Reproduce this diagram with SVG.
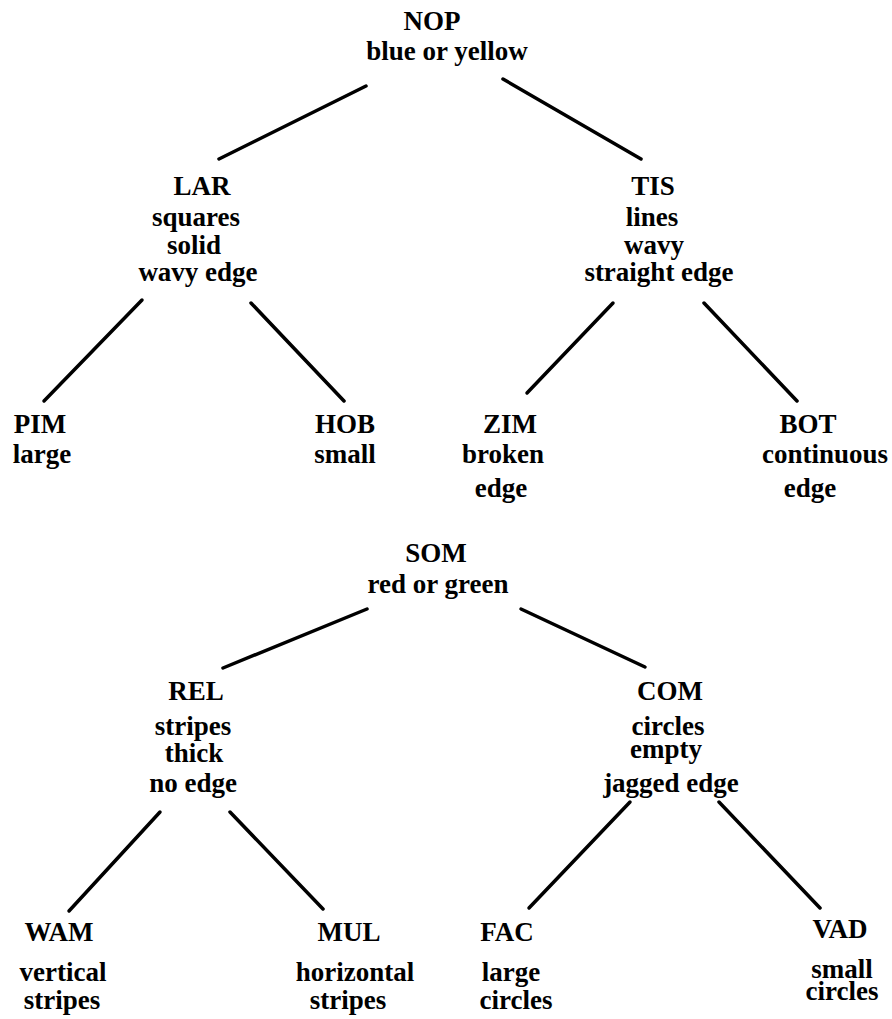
<svg xmlns="http://www.w3.org/2000/svg" width="892" height="1019" viewBox="0 0 892 1019">
<style>
text{font-family:"Liberation Serif","Times New Roman",serif;font-weight:bold;font-size:27px;fill:#000;text-anchor:middle}
.c line{stroke:#000;stroke-width:3.5;stroke-linecap:round}
</style>
<rect width="892" height="1019" fill="#fff"/>
<g class="c" id="connectors">
<line x1="366" y1="86" x2="219" y2="159"/>
<line x1="503" y1="79" x2="641" y2="159"/>
<line x1="142" y1="300" x2="44" y2="401"/>
<line x1="251" y1="303" x2="344" y2="401"/>
<line x1="613" y1="303" x2="527" y2="393"/>
<line x1="704" y1="303" x2="797" y2="401"/>
<line x1="367" y1="609" x2="223" y2="668"/>
<line x1="521" y1="609" x2="645" y2="667"/>
<line x1="160" y1="812" x2="69" y2="911"/>
<line x1="230" y1="812" x2="323" y2="909"/>
<line x1="630" y1="802" x2="529" y2="908"/>
<line x1="719" y1="802" x2="820" y2="908"/>
</g>
<g id="NOP"><text x="432" y="30">NOP</text><text x="447" y="60">blue or yellow</text></g>
<g id="LAR"><text x="202" y="195">LAR</text><text x="196" y="226">squares</text><text x="194" y="254">solid</text><text x="198" y="281">wavy edge</text></g>
<g id="TIS"><text x="653" y="195">TIS</text><text x="652" y="226">lines</text><text x="654" y="254">wavy</text><text x="659" y="281">straight edge</text></g>
<g id="PIM"><text x="40" y="433">PIM</text><text x="42" y="463">large</text></g>
<g id="HOB"><text x="345" y="433">HOB</text><text x="345" y="463">small</text></g>
<g id="ZIM"><text x="510" y="433">ZIM</text><text x="503" y="463">broken</text><text x="501" y="497">edge</text></g>
<g id="BOT"><text x="808" y="433">BOT</text><text x="825" y="463">continuous</text><text x="810" y="497">edge</text></g>
<g id="SOM"><text x="436" y="562">SOM</text><text x="438" y="593">red or green</text></g>
<g id="REL"><text x="196" y="700">REL</text><text x="193" y="735">stripes</text><text x="194" y="762">thick</text><text x="193" y="792">no edge</text></g>
<g id="COM"><text x="670" y="700">COM</text><text x="668" y="735">circles</text><text x="666" y="758">empty</text><text x="671" y="792">jagged edge</text></g>
<g id="WAM"><text x="59" y="941">WAM</text><text x="63" y="981">vertical</text><text x="62" y="1009">stripes</text></g>
<g id="MUL"><text x="349" y="941">MUL</text><text x="355" y="981">horizontal</text><text x="348" y="1009">stripes</text></g>
<g id="FAC"><text x="507" y="941">FAC</text><text x="511" y="981">large</text><text x="516" y="1009">circles</text></g>
<g id="VAD"><text x="840" y="938">VAD</text><text x="842" y="978">small</text><text x="842" y="1000">circles</text></g>
</svg>
